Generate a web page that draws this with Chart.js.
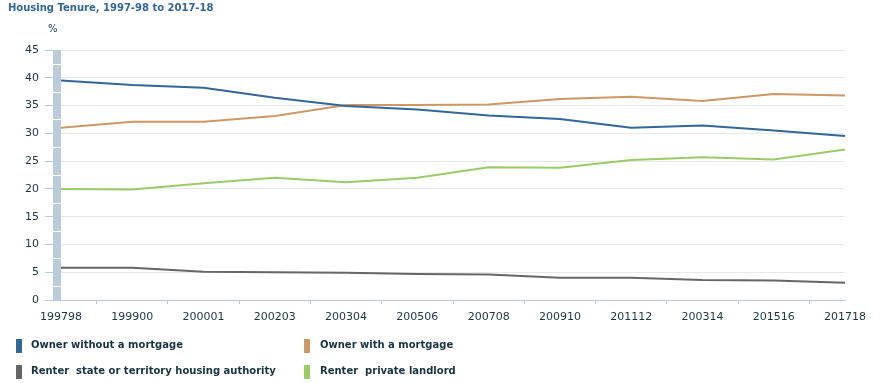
<!DOCTYPE html>
<html>
<head>
<meta charset="utf-8">
<script src="https://cdn.jsdelivr.net/npm/chart.js@4/dist/chart.umd.min.js"></script>
<style>
  html, body { margin: 0; padding: 0; background: #fff; }
  #wrap { position: relative; width: 887px; height: 383px; font-family: "DejaVu Sans", Verdana, sans-serif; }
  #chart { position: absolute; left: 0; top: 0; }
  .title { position: absolute; left: 8px; top: 1px; font-size: 10px; font-weight: bold; color: #336699; line-height: 14px; white-space: nowrap; }
  .unit { position: absolute; left: 48px; top: 22px; font-size: 10px; color: #1a3640; line-height: 14px; }
  .leg { position: absolute; font-size: 10px; font-weight: bold; color: #173340; line-height: 14px; white-space: pre; padding-left: 15px; }
  .leg i { position: absolute; left: 0; top: 1px; width: 6px; height: 14px; }
  .c0 { left: 16px; } .c1 { left: 304px; padding-left: 16px; }
  .r0 { top: 338px; } .r1 { top: 364px; }
</style>
</head>
<body>
<div id="wrap">
  <canvas id="chart" width="887" height="383"></canvas>
  <div class="title">Housing Tenure, 1997-98 to 2017-18</div>
  <div class="unit">%</div>
  <div id="legend"></div>
</div>
<script>
const years = ["199798", "199900", "200001", "200203", "200304", "200506", "200708", "200910", "201112", "200314", "201516", "201718"];

const ownerOutright = [39.5, 38.7, 38.2, 36.4, 34.9, 34.3, 33.2, 32.6, 31.0, 31.4, 30.5, 29.5];
const ownerMortgage = [31.0, 32.1, 32.1, 33.1, 35.1, 35.1, 35.2, 36.2, 36.6, 35.8, 37.1, 36.8];
const renterPublic = [5.8, 5.8, 5.1, 5.0, 4.9, 4.7, 4.6, 4.0, 4.0, 3.6, 3.5, 3.1];
const renterPrivate = [20.0, 19.9, 21.0, 22.0, 21.2, 22.0, 23.9, 23.8, 25.2, 25.7, 25.3, 27.1];

const seriesNames = [
  "Owner without a mortgage",
  "Owner with a mortgage",
  "Renter  state or territory housing authority",
  "Renter  private landlord"
];
const seriesValues = [ownerOutright, ownerMortgage, renterPublic, renterPrivate];
const seriesColors = ["#336699", "#cc9966", "#666666", "#99cc66"];

const axisMax = 45;
const axisStep = 5;

const textColor = "#1a3640";
const axisBlue = "#b8cbdd";
const tickFont = { family: "'DejaVu Sans', Verdana, sans-serif", size: 11 };

// legend, two columns like the original
const legendEl = document.getElementById("legend");
seriesNames.forEach((name, i) => {
  const item = document.createElement("div");
  item.className = "leg c" + (i % 2) + " r" + Math.floor(i / 2);
  const sw = document.createElement("i");
  sw.style.background = seriesColors[i];
  item.appendChild(sw);
  item.appendChild(document.createTextNode(name));
  legendEl.appendChild(item);
});

// light blue strip left of the plot area, split by white lines halfway between ticks
const wallPlugin = {
  id: "wall",
  beforeDatasetsDraw(chart) {
    const { ctx, chartArea, scales } = chart;
    const y = scales.y;
    const x0 = chartArea.left - 8;
    const top = y.getPixelForValue(y.max) + 1;
    const bottom = y.getPixelForValue(y.min);
    ctx.save();
    ctx.fillStyle = "#bccbdb";
    ctx.fillRect(x0, top, 8, bottom - top);
    ctx.fillStyle = "#ffffff";
    for (let v = axisStep / 2; v < y.max; v += axisStep) {
      ctx.fillRect(x0, Math.round(y.getPixelForValue(v)), 8, 1);
    }
    ctx.restore();
  }
};

new Chart(document.getElementById("chart"), {
  type: "line",
  data: {
    labels: years,
    datasets: seriesNames.map((name, i) => ({
      label: name,
      data: seriesValues[i],
      borderColor: seriesColors[i],
      backgroundColor: seriesColors[i],
      borderWidth: 2,
      pointRadius: 0,
      tension: 0,
      fill: false
    }))
  },
  options: {
    responsive: false,
    animation: false,
    layout: { padding: { top: 50, right: 42, bottom: 53, left: 0 } },
    plugins: {
      legend: { display: false },
      tooltip: { enabled: false }
    },
    scales: {
      x: {
        offset: false,
        grid: {
          offset: true,
          drawOnChartArea: false,
          tickLength: 4,
          tickColor: axisBlue
        },
        border: { color: axisBlue },
        ticks: {
          color: textColor,
          font: tickFont,
          padding: 7,
          maxRotation: 0,
          autoSkip: false
        },
        afterFit: (scale) => { scale.height = 30; }
      },
      y: {
        min: 0,
        max: axisMax,
        ticks: {
          stepSize: axisStep,
          color: textColor,
          font: tickFont,
          padding: 6
        },
        grid: {
          color: "#e8e8e8",
          tickColor: axisBlue,
          tickLength: 16
        },
        border: { display: false },
        afterFit: (scale) => { scale.width = 61; }
      }
    }
  },
  plugins: [wallPlugin]
});
</script>
</body>
</html>
